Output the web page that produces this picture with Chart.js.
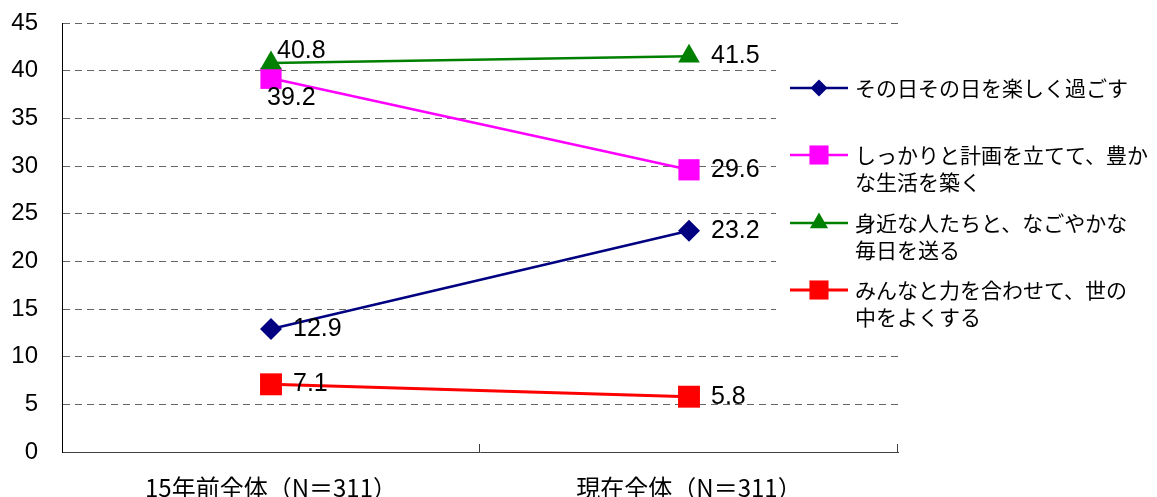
<!DOCTYPE html>
<html>
<head>
<meta charset="utf-8">
<script src="https://cdn.jsdelivr.net/npm/chart.js@4.4.0/dist/chart.umd.min.js"></script>
<style>
html, body { margin: 0; padding: 0; background: #fff; }
</style>
</head>
<body>
<canvas id="chart" width="1157" height="497"></canvas>
<script>
// --- data ---
const categories = ['15年前全体（N＝311）', '現在全体（N＝311）'];
const seriesNames = [
    ['その日その日を楽しく過ごす'],
    ['しっかりと計画を立てて、豊か', 'な生活を築く'],
    ['身近な人たちと、なごやかな', '毎日を送る'],
    ['みんなと力を合わせて、世の', '中をよくする']
];
const enjoyDays = [12.9, 23.2];
const plannedLife = [39.2, 29.6];
const peacefulDays = [40.8, 41.5];
const togetherBetter = [7.1, 5.8];
const yTicks = [0, 5, 10, 15, 20, 25, 30, 35, 40, 45];

// --- styles ---
const seriesStyle = [
    { color: '#000080', shape: 'rectRot', r: 11, legendR: 8.5, width: 2.5 },
    { color: '#ff00ff', shape: 'rect', r: 15, legendR: 13.5, width: 2.5 },
    { color: '#008000', shape: 'triangle', r: 12.5, legendR: 10.5, width: 2.5 },
    { color: '#ff0000', shape: 'rect', r: 15.5, legendR: 13.5, width: 3 }
];
// label offsets from point: [dx, dy]
const labelOffset = { '2-0': [6, -12], '1-0': [-4, 20] };
const legendRows = [88, 155, 223, 290];

const allSeries = [enjoyDays, plannedLife, peacefulDays, togetherBetter];

function drawShape(ctx, shape, x, y, r) {
    if (shape === 'rect') {
        const h = Math.SQRT1_2 * r;
        ctx.rect(x - h, y - h, 2 * h, 2 * h);
    } else if (shape === 'rectRot') {
        ctx.moveTo(x - r, y); ctx.lineTo(x, y - r); ctx.lineTo(x + r, y); ctx.lineTo(x, y + r); ctx.closePath();
    } else {
        const a = Math.PI * 2 / 3;
        ctx.moveTo(x, y - r);
        ctx.lineTo(x + Math.sin(a) * r, y - Math.cos(a) * r);
        ctx.lineTo(x - Math.sin(a) * r, y - Math.cos(a) * r);
        ctx.closePath();
    }
}

const overlayPlugin = {
    id: 'overlay',
    afterDatasetsDraw(chart) {
        const ctx = chart.ctx;
        ctx.save();
        ctx.font = '25px "Liberation Sans", Arial, sans-serif';
        ctx.fillStyle = '#000';
        ctx.textBaseline = 'middle';
        ctx.textAlign = 'left';
        allSeries.forEach((vals, i) => {
            const meta = chart.getDatasetMeta(i);
            vals.forEach((v, j) => {
                const p = meta.data[j];
                const off = labelOffset[i + '-' + j] || [22, 0];
                ctx.fillText(v.toFixed(1), p.x + off[0], p.y + off[1]);
            });
        });
        ctx.restore();
    },
    afterDraw(chart) {
        const ctx = chart.ctx;
        const area = chart.chartArea;
        ctx.save();
        // inward tick marks on x axis
        ctx.strokeStyle = '#404040';
        ctx.lineWidth = 1;
        const n = categories.length;
        for (let i = 1; i <= n; i++) {
            const x = Math.round(area.left + i * (area.right - area.left) / n) - 0.5;
            ctx.beginPath();
            ctx.moveTo(x, area.bottom - 8);
            ctx.lineTo(x, area.bottom);
            ctx.stroke();
        }
        // legend box
        ctx.fillStyle = '#fff';
        ctx.fillRect(776, 40, 381, 300);
        ctx.font = '21px "Noto Sans CJK JP", sans-serif';
        ctx.textBaseline = 'middle';
        ctx.textAlign = 'left';
        seriesNames.forEach((lines, i) => {
            const st = seriesStyle[i];
            const y = legendRows[i];
            ctx.strokeStyle = st.color;
            ctx.lineWidth = st.width;
            ctx.beginPath();
            ctx.moveTo(790, y);
            ctx.lineTo(848, y);
            ctx.stroke();
            ctx.fillStyle = st.color;
            ctx.beginPath();
            drawShape(ctx, st.shape, 819, y, st.legendR);
            ctx.fill();
            ctx.fillStyle = '#000';
            lines.forEach((t, k) => ctx.fillText(t, 855, y + k * 27));
        });
        ctx.restore();
    }
};

const datasets = allSeries.map((vals, i) => ({
    label: seriesNames[i].join(''),
    data: vals,
    borderColor: seriesStyle[i].color,
    backgroundColor: seriesStyle[i].color,
    borderWidth: seriesStyle[i].width,
    pointStyle: seriesStyle[i].shape,
    pointRadius: seriesStyle[i].r,
    pointBorderWidth: 0,
    pointBackgroundColor: seriesStyle[i].color,
    order: allSeries.length - i,
    tension: 0,
    clip: false
}));

new Chart(document.getElementById('chart').getContext('2d'), {
    type: 'line',
    data: { labels: categories, datasets: datasets },
    plugins: [overlayPlugin],
    options: {
        responsive: false,
        animation: false,
        devicePixelRatio: 1,
        layout: { autoPadding: false, padding: { left: 0, right: 259, top: 23, bottom: 0 } },
        plugins: { legend: { display: false }, tooltip: { enabled: false } },
        scales: {
            x: {
                offset: true,
                grid: { display: false, drawTicks: false, tickLength: 0 },
                border: { display: true, color: '#404040', width: 1 },
                ticks: {
                    color: '#000', padding: 21, maxRotation: 0,
                    font: { family: '"Noto Sans CJK JP", sans-serif', size: 24 }
                },
                afterFit: s => { s.height = 45; }
            },
            y: {
                min: 0, max: 45,
                afterBuildTicks: s => { s.ticks = yTicks.map(v => ({ value: v })); },
                grid: {
                    drawTicks: true, tickLength: 24, tickColor: 'rgba(0,0,0,0)',
                    color: c => c.tick && c.tick.value === 0 ? 'rgba(0,0,0,0)' : '#666'
                },
                border: { display: true, color: '#000', width: 1, dash: [7, 5] },
                ticks: {
                    color: '#000', padding: 0,
                    font: { family: '"Liberation Sans", Arial, sans-serif', size: 24 }
                },
                afterFit: s => { s.width = 62; }
            }
        }
    }
});
</script>
</body>
</html>
